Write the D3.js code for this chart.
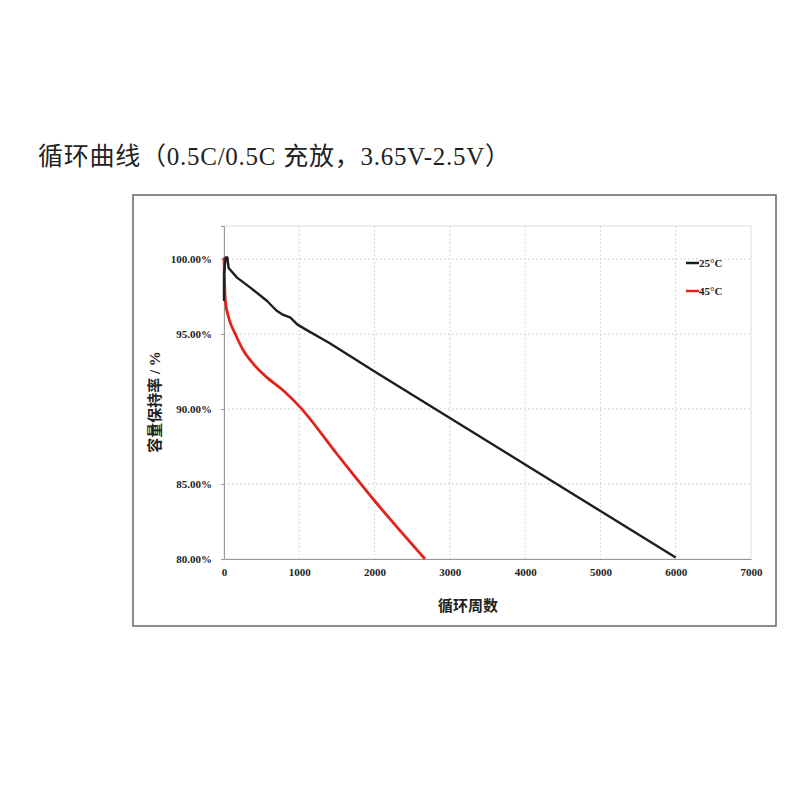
<!DOCTYPE html>
<html><head><meta charset="utf-8">
<script src="https://cdn.jsdelivr.net/npm/d3@7"></script>
<style>
html,body{margin:0;padding:0;background:#fff;}
svg{display:block;}
</style></head>
<body>
<svg id="chart" width="800" height="800"></svg>
<script>
const titleText = "循环曲线（0.5C/0.5C 充放，3.65V-2.5V）";
const yAxisTitle = "容量保持率 / %";
const xAxisTitle = "循环周数";
const seriesNames = ["25°C", "45°C"];
const seriesColors = ["#1e1e1e", "#e3231b"];
const xTicks = [0, 1000, 2000, 3000, 4000, 5000, 6000, 7000];
const yTicks = [80, 85, 90, 95, 100];

const cycles25 = [0, 0, 22, 44, 62, 173, 350, 573, 650, 706, 772, 883, 972, 1083, 1400, 2000, 3000, 4000, 5000, 6000];
const values25 = [97.2, 99.0, 100.1, 100.1, 99.4, 98.76, 98.09, 97.2, 96.8, 96.53, 96.31, 96.09, 95.64, 95.31, 94.4, 92.5, 89.4, 86.3, 83.2, 80.1];
const cycles45 = [0, 5, 18, 62, 150, 262, 395, 573, 795, 1016, 1500, 1997, 2670];
const values45 = [100.1, 99.0, 97.2, 96.1, 95.0, 93.87, 92.98, 92.09, 91.2, 90.09, 87.0, 83.9, 80.0];

const svg = d3.select("#chart");
const serif = "'Liberation Serif','Times New Roman','Noto Sans CJK SC',serif";
const cjk = "'Liberation Serif','Noto Sans CJK SC',sans-serif";

// title
svg.append("text").attr("x", 38).attr("y", 165)
  .attr("font-family", cjk).attr("font-size", 25).attr("fill", "#222")
  .attr("textLength", 472).attr("lengthAdjust", "spacing")
  .text(titleText);

// outer frame
svg.append("rect").attr("x", 133).attr("y", 195).attr("width", 643).attr("height", 431)
  .attr("fill", "#fff").attr("stroke", "#666").attr("stroke-width", 1.5);

const L = 224, R = 751, T = 226, B = 559;
const x = d3.scaleLinear().domain([0, 7000]).range([L, R]);
const y = d3.scaleLinear().domain([80, 102.2]).range([B, T]);

// plot border
svg.append("rect").attr("x", L).attr("y", T).attr("width", R - L).attr("height", B - T)
  .attr("fill", "none").attr("stroke", "#dcdcdc").attr("stroke-width", 1);

// gridlines
const g = svg.append("g");
g.selectAll("line.vx").data(xTicks.filter(d => d > 0 && d < 7000)).join("line")
  .attr("x1", d => x(d)).attr("x2", d => x(d)).attr("y1", T).attr("y2", B)
  .attr("stroke", "#c8c8c8").attr("stroke-width", 1).attr("stroke-dasharray", "1.5,2.5");
g.selectAll("line.hy").data(yTicks.filter(d => d > 80)).join("line")
  .attr("x1", L).attr("x2", R).attr("y1", d => y(d)).attr("y2", d => y(d))
  .attr("stroke", "#c8c8c8").attr("stroke-width", 1).attr("stroke-dasharray", "1.5,2.5");

// axes
const xAxis = d3.axisBottom(x).tickValues(xTicks).tickFormat(d3.format("d")).tickSize(0).tickPadding(9);
const yAxis = d3.axisLeft(y).tickValues(yTicks).tickFormat(d => d.toFixed(2) + "%").tickSize(3).tickPadding(9);
const gx = svg.append("g").attr("transform", `translate(0,${B})`).call(xAxis);
const gy = svg.append("g").attr("transform", `translate(${L},0)`).call(yAxis);
[gx, gy].forEach(a => {
  a.select(".domain").attr("stroke", "#999");
  a.selectAll(".tick line").attr("stroke", "#999");
  a.selectAll("text").attr("font-family", serif).attr("font-size", 11)
    .attr("font-weight", "bold").attr("fill", "#222");
});

// lines
const line = d3.line().x(d => x(d[0])).y(d => y(d[1]));
const smooth = d3.line().x(d => x(d[0])).y(d => y(d[1])).curve(d3.curveMonotoneX);
const data25 = cycles25.map((c, i) => [c, values25[i]]);
const data45 = cycles45.map((c, i) => [c, values45[i]]);
svg.append("path").datum(data45).attr("d", smooth).attr("fill", "none")
  .attr("stroke", seriesColors[1]).attr("stroke-width", 2.8).attr("stroke-linejoin", "round");
svg.append("path").datum(data25).attr("d", line).attr("fill", "none")
  .attr("stroke", seriesColors[0]).attr("stroke-width", 2.4).attr("stroke-linejoin", "round");

// legend
const leg = svg.append("g");
seriesNames.forEach((n, i) => {
  const ly = 263 + i * 28;
  leg.append("line").attr("x1", 686).attr("x2", 699).attr("y1", ly).attr("y2", ly)
    .attr("stroke", seriesColors[i]).attr("stroke-width", 2.5);
  leg.append("text").attr("x", 699).attr("y", ly + 4)
    .attr("font-family", serif).attr("font-size", 11).attr("font-weight", "bold").attr("fill", "#222")
    .text(n);
});

// axis titles
svg.append("text").attr("transform", "translate(160,402) rotate(-90)")
  .attr("text-anchor", "middle").attr("font-family", cjk).attr("font-size", 15)
  .attr("font-weight", "bold").attr("fill", "#222").text(yAxisTitle);
svg.append("text").attr("x", 468).attr("y", 611)
  .attr("text-anchor", "middle").attr("font-family", cjk).attr("font-size", 15)
  .attr("font-weight", "bold").attr("fill", "#222").text(xAxisTitle);
</script>
</body></html>
